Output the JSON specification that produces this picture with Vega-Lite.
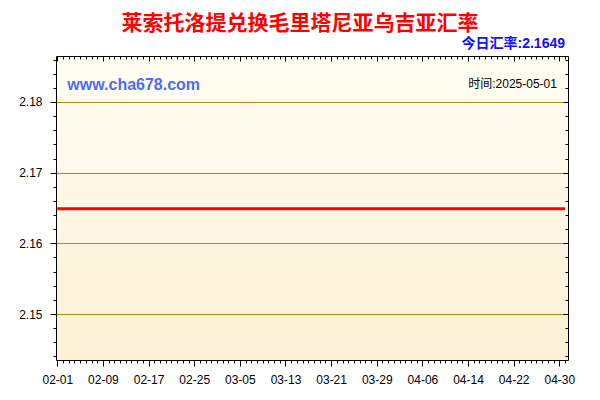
{
  "$schema": "https://vega.github.io/schema/vega-lite/v6.json",
  "width": 512,
  "height": 304,
  "autosize": "none",
  "padding": {"left": 56, "top": 56, "right": 32, "bottom": 40},
  "background": "#ffffff",
  "title": {
    "text": "莱索托洛提兑换毛里塔尼亚乌吉亚汇率",
    "color": "#ff0000",
    "font": "Noto Sans CJK SC",
    "fontSize": 21,
    "fontWeight": "bold",
    "anchor": "middle",
    "frame": "group",
    "dx": -12,
    "offset": 3
  },
  "data": {
    "values": [
      {"date": "2025-02-01", "rate": 2.1649}, {"date": "2025-02-02", "rate": 2.1649}, {"date": "2025-02-03", "rate": 2.1649},
      {"date": "2025-02-04", "rate": 2.1649}, {"date": "2025-02-05", "rate": 2.1649}, {"date": "2025-02-06", "rate": 2.1649},
      {"date": "2025-02-07", "rate": 2.1649}, {"date": "2025-02-08", "rate": 2.1649}, {"date": "2025-02-09", "rate": 2.1649},
      {"date": "2025-02-10", "rate": 2.1649}, {"date": "2025-02-11", "rate": 2.1649}, {"date": "2025-02-12", "rate": 2.1649},
      {"date": "2025-02-13", "rate": 2.1649}, {"date": "2025-02-14", "rate": 2.1649}, {"date": "2025-02-15", "rate": 2.1649},
      {"date": "2025-02-16", "rate": 2.1649}, {"date": "2025-02-17", "rate": 2.1649}, {"date": "2025-02-18", "rate": 2.1649},
      {"date": "2025-02-19", "rate": 2.1649}, {"date": "2025-02-20", "rate": 2.1649}, {"date": "2025-02-21", "rate": 2.1649},
      {"date": "2025-02-22", "rate": 2.1649}, {"date": "2025-02-23", "rate": 2.1649}, {"date": "2025-02-24", "rate": 2.1649},
      {"date": "2025-02-25", "rate": 2.1649}, {"date": "2025-02-26", "rate": 2.1649}, {"date": "2025-02-27", "rate": 2.1649},
      {"date": "2025-02-28", "rate": 2.1649}, {"date": "2025-03-01", "rate": 2.1649}, {"date": "2025-03-02", "rate": 2.1649},
      {"date": "2025-03-03", "rate": 2.1649}, {"date": "2025-03-04", "rate": 2.1649}, {"date": "2025-03-05", "rate": 2.1649},
      {"date": "2025-03-06", "rate": 2.1649}, {"date": "2025-03-07", "rate": 2.1649}, {"date": "2025-03-08", "rate": 2.1649},
      {"date": "2025-03-09", "rate": 2.1649}, {"date": "2025-03-10", "rate": 2.1649}, {"date": "2025-03-11", "rate": 2.1649},
      {"date": "2025-03-12", "rate": 2.1649}, {"date": "2025-03-13", "rate": 2.1649}, {"date": "2025-03-14", "rate": 2.1649},
      {"date": "2025-03-15", "rate": 2.1649}, {"date": "2025-03-16", "rate": 2.1649}, {"date": "2025-03-17", "rate": 2.1649},
      {"date": "2025-03-18", "rate": 2.1649}, {"date": "2025-03-19", "rate": 2.1649}, {"date": "2025-03-20", "rate": 2.1649},
      {"date": "2025-03-21", "rate": 2.1649}, {"date": "2025-03-22", "rate": 2.1649}, {"date": "2025-03-23", "rate": 2.1649},
      {"date": "2025-03-24", "rate": 2.1649}, {"date": "2025-03-25", "rate": 2.1649}, {"date": "2025-03-26", "rate": 2.1649},
      {"date": "2025-03-27", "rate": 2.1649}, {"date": "2025-03-28", "rate": 2.1649}, {"date": "2025-03-29", "rate": 2.1649},
      {"date": "2025-03-30", "rate": 2.1649}, {"date": "2025-03-31", "rate": 2.1649}, {"date": "2025-04-01", "rate": 2.1649},
      {"date": "2025-04-02", "rate": 2.1649}, {"date": "2025-04-03", "rate": 2.1649}, {"date": "2025-04-04", "rate": 2.1649},
      {"date": "2025-04-05", "rate": 2.1649}, {"date": "2025-04-06", "rate": 2.1649}, {"date": "2025-04-07", "rate": 2.1649},
      {"date": "2025-04-08", "rate": 2.1649}, {"date": "2025-04-09", "rate": 2.1649}, {"date": "2025-04-10", "rate": 2.1649},
      {"date": "2025-04-11", "rate": 2.1649}, {"date": "2025-04-12", "rate": 2.1649}, {"date": "2025-04-13", "rate": 2.1649},
      {"date": "2025-04-14", "rate": 2.1649}, {"date": "2025-04-15", "rate": 2.1649}, {"date": "2025-04-16", "rate": 2.1649},
      {"date": "2025-04-17", "rate": 2.1649}, {"date": "2025-04-18", "rate": 2.1649}, {"date": "2025-04-19", "rate": 2.1649},
      {"date": "2025-04-20", "rate": 2.1649}, {"date": "2025-04-21", "rate": 2.1649}, {"date": "2025-04-22", "rate": 2.1649},
      {"date": "2025-04-23", "rate": 2.1649}, {"date": "2025-04-24", "rate": 2.1649}, {"date": "2025-04-25", "rate": 2.1649},
      {"date": "2025-04-26", "rate": 2.1649}, {"date": "2025-04-27", "rate": 2.1649}, {"date": "2025-04-28", "rate": 2.1649},
      {"date": "2025-04-29", "rate": 2.1649}, {"date": "2025-04-30", "rate": 2.1649}, {"date": "2025-05-01", "rate": 2.1649}
    ]
  },
  "layer": [
    {
      "mark": {"type": "line", "color": "#ff0000", "strokeWidth": 3},
      "encoding": {
        "x": {
          "field": "date",
          "type": "temporal",
          "scale": {"type": "utc", "domain": [1738348200000, 1746102960000]},
          "axis": {
            "orient": "bottom",
            "title": null,
            "domain": false,
            "grid": false,
            "tickCount": {"interval": "day", "step": 1},
            "tickColor": "#000000",
            "tickSize": {"condition": {"test": "(datum.value - 1738368000000) % 691200000 == 0", "value": 6}, "value": 3},
            "labelExpr": "(datum.value - 1738368000000) % 691200000 == 0 ? utcFormat(datum.value, '%m-%d') : ''",
            "labelOverlap": false,
            "labelFlush": false,
            "labelBound": false,
            "labelPadding": 8,
            "labelFont": "Liberation Sans",
            "labelFontSize": 12,
            "labelColor": "#000000"
          }
        },
        "y": {
          "field": "rate",
          "type": "quantitative",
          "scale": {"domain": [2.1435, 2.1865], "zero": false, "nice": false},
          "axis": {
            "orient": "left",
            "title": null,
            "domain": false,
            "values": [2.144, 2.146, 2.148, 2.15, 2.152, 2.154, 2.156, 2.158, 2.16, 2.162, 2.164, 2.166, 2.168, 2.17, 2.172, 2.174, 2.176, 2.178, 2.18, 2.182, 2.184, 2.186],
            "tickColor": "#000000",
            "tickSize": {"condition": {"test": "abs(datum.value * 100 - round(datum.value * 100)) < 0.001", "value": 6}, "value": 3},
            "grid": true,
            "gridColor": "#B8860B",
            "gridWidth": 1,
            "gridOpacity": {"condition": {"test": "abs(datum.value * 100 - round(datum.value * 100)) < 0.001", "value": 1}, "value": 0},
            "labelExpr": "abs(datum.value * 100 - round(datum.value * 100)) < 0.001 ? format(datum.value, '.2f') : ''",
            "labelOverlap": false,
            "labelPadding": 8,
            "labelFont": "Liberation Sans",
            "labelFontSize": 12,
            "labelColor": "#000000"
          }
        }
      }
    },
    {
      "mark": {"type": "line", "opacity": 0},
      "encoding": {
        "x": {
          "field": "date",
          "type": "temporal",
          "axis": {
            "orient": "top",
            "title": null,
            "domain": false,
            "grid": false,
            "labels": false,
            "tickCount": {"interval": "day", "step": 1},
            "tickColor": "#000000",
            "tickSize": {"condition": {"test": "(datum.value - 1738368000000) % 691200000 == 0", "value": -5}, "value": -3}
          }
        },
        "y": {
          "field": "rate",
          "type": "quantitative",
          "axis": {
            "orient": "right",
            "title": null,
            "domain": false,
            "grid": false,
            "labels": false,
            "values": [2.144, 2.146, 2.148, 2.15, 2.152, 2.154, 2.156, 2.158, 2.16, 2.162, 2.164, 2.166, 2.168, 2.17, 2.172, 2.174, 2.176, 2.178, 2.18, 2.182, 2.184, 2.186],
            "tickColor": "#000000",
            "tickSize": {"condition": {"test": "abs(datum.value * 100 - round(datum.value * 100)) < 0.001", "value": -5}, "value": -3}
          }
        }
      }
    },
    {
      "data": {"values": [{"label": "今日汇率:2.1649"}]},
      "mark": {"type": "text", "align": "right", "baseline": "middle", "font": "Liberation Sans, Noto Sans CJK SC", "fontSize": 14, "fontWeight": "bold", "fill": "#1010ff"},
      "encoding": {
        "text": {"field": "label"},
        "x": {"datum": {"year": 2025, "month": 5, "date": 1, "utc": true}, "type": "temporal", "axis": null},
        "y": {"datum": 2.1882, "type": "quantitative", "axis": null}
      }
    },
    {
      "data": {"values": [{"label": "www.cha678.com"}]},
      "mark": {"type": "text", "align": "left", "baseline": "middle", "font": "Liberation Sans", "fontSize": 16, "fontWeight": "bold", "fill": "#4f6cf0"},
      "encoding": {
        "text": {"field": "label"},
        "x": {"datum": {"year": 2025, "month": 2, "date": 2, "hours": 18, "utc": true}, "type": "temporal", "axis": null},
        "y": {"datum": 2.18244, "type": "quantitative", "axis": null}
      }
    },
    {
      "data": {"values": [{"label": "时间:2025-05-01"}]},
      "mark": {"type": "text", "align": "right", "baseline": "middle", "font": "Liberation Sans, Noto Sans CJK SC", "fontSize": 12, "fill": "#000000"},
      "encoding": {
        "text": {"field": "label"},
        "x": {"datum": {"year": 2025, "month": 4, "date": 29, "hours": 14, "utc": true}, "type": "temporal", "axis": null},
        "y": {"datum": 2.1825, "type": "quantitative", "axis": null}
      }
    }
  ],
  "resolve": {"axis": {"x": "independent", "y": "independent"}},
  "config": {
    "view": {
      "stroke": "#000000",
      "strokeWidth": 1,
      "fill": {
        "gradient": "linear",
        "x1": 0, "y1": 0, "x2": 0, "y2": 1,
        "stops": [{"offset": 0, "color": "#fffef3"}, {"offset": 1, "color": "#fdf0d5"}]
      }
    }
  }
}
